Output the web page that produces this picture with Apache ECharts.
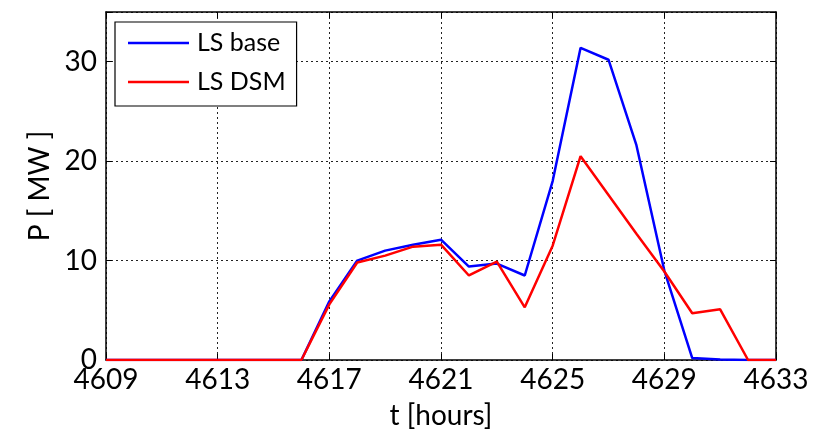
<!DOCTYPE html>
<html>
<head>
<meta charset="utf-8">
<script src="https://cdn.jsdelivr.net/npm/echarts@6/dist/echarts.min.js"></script>
<style>
html,body{margin:0;padding:0;background:#fff;}
#chart{width:821px;height:435px;}
</style>
</head>
<body>
<div id="chart"></div>
<script>
const hours = [4609,4610,4611,4612,4613,4614,4615,4616,4617,4618,4619,4620,4621,4622,4623,4624,4625,4626,4627,4628,4629,4630,4631,4632,4633];
const lsBase = [0,0,0,0,0,0,0,0,5.9,10.0,11.0,11.6,12.1,9.4,9.7,8.5,18.0,31.4,30.2,21.6,9.0,0.2,0.05,0,0];
const lsDSM  = [0,0,0,0,0,0,0,0,5.6,9.8,10.5,11.4,11.6,8.5,9.9,5.3,11.5,20.5,16.6,12.7,8.9,4.7,5.1,0,0];
const xTicks = [4609,4613,4617,4621,4625,4629,4633];
const seriesNames = ['LS base','LS DSM'];

const FONT = 'Lato';
const chart = echarts.init(document.getElementById('chart'));
const pair = arr => hours.map((h,i)=>[h, arr[i]]);
const gridLine = {show:true, lineStyle:{color:'#222', type:[2,3], width:1}};
const axisLineStyle = {show:true, onZero:false, lineStyle:{color:'#000', width:1.5}};

chart.setOption({
  backgroundColor:'#fff',
  animation:false,
  grid:{left:106, right:45, top:12, bottom:75, show:false},
  legend:{
    orient:'vertical', left:115, top:22,
    data: seriesNames,
    icon:'rect',
    backgroundColor:'#fff',
    borderColor:'#000', borderWidth:1.2,
    padding:[6,11,9,13],
    itemWidth:61, itemHeight:2.5, itemGap:9,
    textStyle:{fontFamily:FONT, fontSize:25, lineHeight:30, color:'#000', padding:[0,0,0,3]}
  },
  xAxis:[{
    type:'value', min:4609, max:4633, interval:4,
    position:'bottom',
    name:'t [hours]', nameLocation:'middle', nameGap:42,
    nameTextStyle:{fontFamily:FONT, fontSize:28, color:'#000'},
    axisLine:axisLineStyle,
    axisTick:{show:true, inside:true, length:6, lineStyle:{color:'#000'}},
    axisLabel:{fontFamily:FONT, fontSize:28, color:'#000', margin:6,
      formatter: v => xTicks.includes(v) ? String(v) : ''},
    splitLine:gridLine
  },{
    type:'value', min:4609, max:4633, interval:4,
    position:'top',
    axisLine:axisLineStyle,
    axisTick:{show:true, inside:true, length:6, lineStyle:{color:'#000'}},
    axisLabel:{show:false}, splitLine:{show:false}
  }],
  yAxis:[{
    type:'value', min:0, max:35, interval:10,
    position:'left',
    name:'P [ MW ]', nameLocation:'middle', nameGap:52,
    nameTextStyle:{fontFamily:FONT, fontSize:28, color:'#000'},
    axisLine:axisLineStyle,
    axisTick:{show:true, inside:true, length:6, lineStyle:{color:'#000'}},
    axisLabel:{fontFamily:FONT, fontSize:28, color:'#000', margin:9,
      formatter: v => (v % 10 === 0 ? String(v) : '')},
    splitLine:gridLine
  },{
    type:'value', min:0, max:35, interval:10,
    position:'right',
    axisLine:axisLineStyle,
    axisTick:{show:true, inside:true, length:6, lineStyle:{color:'#000'}},
    axisLabel:{show:false}, splitLine:{show:false}
  }],
  series:[
    {name:seriesNames[0], type:'line', data:pair(lsBase), symbol:'none',
     lineStyle:{color:'#0000ff', width:2.5}, itemStyle:{color:'#0000ff'}},
    {name:seriesNames[1], type:'line', data:pair(lsDSM), symbol:'none',
     lineStyle:{color:'#ff0000', width:2.5}, itemStyle:{color:'#ff0000'}}
  ]
});
</script>
</body>
</html>
